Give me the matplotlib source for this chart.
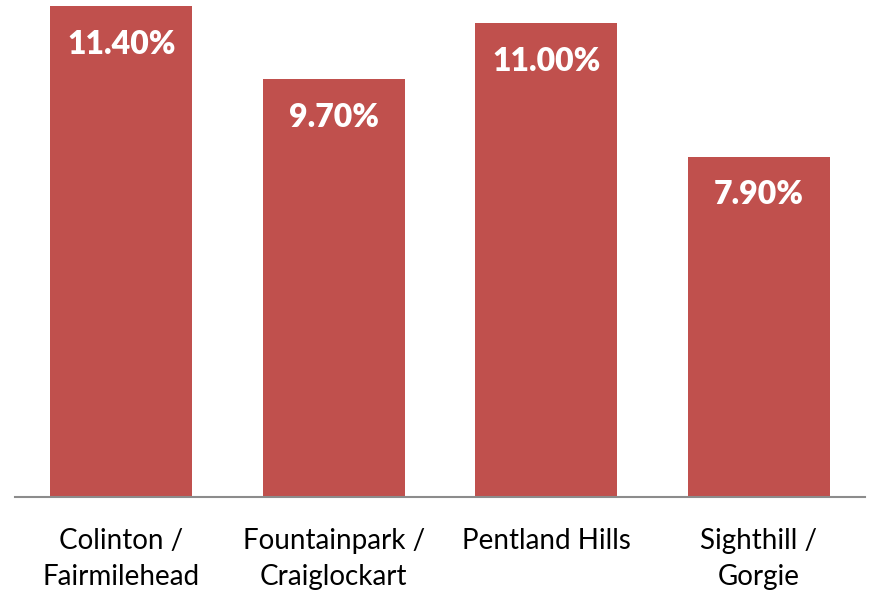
import matplotlib.pyplot as plt

# Data
areas = ['Colinton /\nFairmilehead', 'Fountainpark /\nCraiglockart', 'Pentland Hills', 'Sighthill /\nGorgie']
values = [11.40, 9.70, 11.00, 7.90]

plt.rcParams['font.family'] = ['Lato', 'DejaVu Sans']

fig = plt.figure(figsize=(8.69, 5.94), dpi=100)
ax = fig.add_axes([15 / 869, 97 / 594, 850 / 869, 497 / 594])

x = range(len(areas))
bars = ax.bar(x, values, width=0.668, color='#C0504D', zorder=2)

ax.set_xlim(-0.5, len(areas) - 0.5)
ax.set_ylim(0, 11.54)

# value labels inside the bar tops
for xi, v in zip(x, values):
    ax.annotate(f'{v:.2f}%', xy=(xi, v), xytext=(0, -17), textcoords='offset points',
                ha='center', va='top', color='white', fontsize=23, fontweight='heavy')

for s in ['top', 'right', 'left']:
    ax.spines[s].set_visible(False)
ax.spines['bottom'].set_color('#8c8c8c')
ax.spines['bottom'].set_linewidth(1.5)
ax.set_yticks([])
ax.set_xticks(list(x))
ax.set_xticklabels(areas, fontsize=20, linespacing=1.5)
ax.tick_params(axis='x', length=0, pad=22)

fig.savefig('out.png', dpi=100)
